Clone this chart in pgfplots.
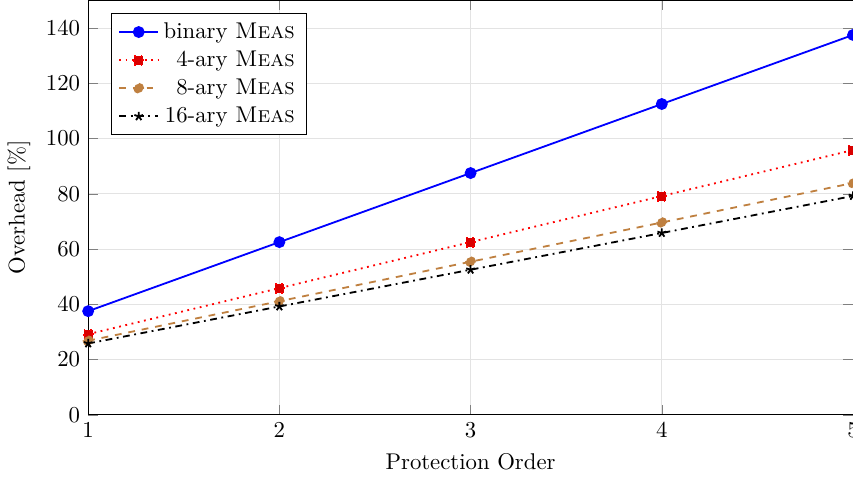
\documentclass[border=0pt]{standalone}
\usepackage{pgfplots}
\pgfplotsset{compat=1.18}
\begin{document}
\begin{tikzpicture}[trim axis right]
\begin{axis}[
  scale only axis,
  width=336pt, height=182pt,
  xmin=1, xmax=5, ymin=0, ymax=150,
  xtick={1,2,3,4,5},
  ytick={0,20,40,60,80,100,120,140},
  xlabel={Protection Order},
  ylabel={Overhead [\%]},
  grid=major,
  major grid style={gray!22},
  legend pos=north west,
  legend cell align=right,
  legend style={font=\normalsize},
]
\addplot[blue, thick, mark=*, mark size=2.2pt] coordinates {(1,37.5) (2,62.5) (3,87.5) (4,112.5) (5,137.5)};
\addlegendentry{binary \textsc{Meas}}
\addplot[red, thick, dotted, mark=square*, mark size=2pt, mark options={fill=red!85!black}] coordinates {(1,29.17) (2,45.83) (3,62.5) (4,79.17) (5,95.83)};
\addlegendentry{4-ary \textsc{Meas}}
\addplot[brown, thick, dashed, mark=*, mark size=2pt] coordinates {(1,26.8) (2,41.1) (3,55.4) (4,69.6) (5,83.9)};
\addlegendentry{8-ary \textsc{Meas}}
\addplot[black, thick, dash dot, mark=star, mark size=2pt] coordinates {(1,25.8) (2,39.2) (3,52.5) (4,65.8) (5,79.2)};
\addlegendentry{16-ary \textsc{Meas}}
\end{axis}
\end{tikzpicture}
\end{document}
